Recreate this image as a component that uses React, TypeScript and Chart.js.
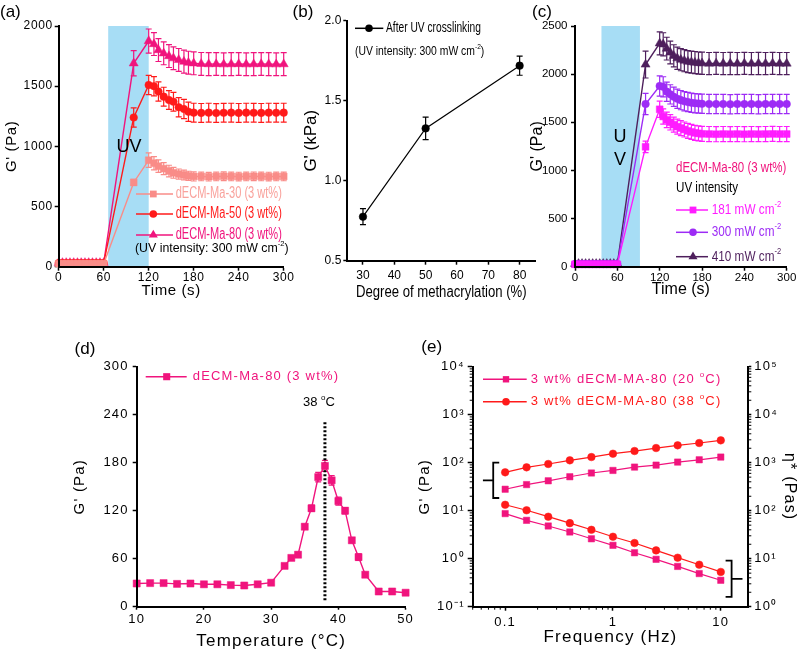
import React, { useEffect, useRef } from 'react';
import { Chart, registerables } from 'chart.js';

Chart.register(...registerables);

const SANS = "'Liberation Sans', Arial, sans-serif";

// ================= DATA =================
// (a) dECM-Ma-30/50/80, UV 300 mW cm-2
const timeA = [0, 5, 10, 15, 20, 25, 30, 35, 40, 45, 50, 55, 60, 100, 120, 127, 133, 140, 147, 153, 160, 167, 173, 180, 190, 200, 210, 220, 230, 240, 250, 260, 270, 280, 290, 300];
const g30A = [25, 25, 25, 25, 25, 25, 25, 25, 25, 25, 25, 25, 25, 700, 885, 860, 835, 815, 795, 780, 770, 762, 755, 750, 750, 748, 750, 752, 750, 749, 750, 751, 750, 749, 750, 750];
const g50A = [30, 30, 30, 30, 30, 30, 30, 30, 30, 30, 30, 30, 30, 1240, 1510, 1500, 1455, 1413, 1385, 1371, 1325, 1310, 1288, 1280, 1278, 1280, 1277, 1279, 1280, 1278, 1280, 1279, 1278, 1280, 1279, 1280];
const g80A = [32, 32, 32, 32, 32, 32, 32, 32, 32, 32, 32, 32, 32, 1690, 1875, 1850, 1800, 1773, 1750, 1732, 1718, 1704, 1695, 1690, 1685, 1683, 1684, 1682, 1683, 1684, 1682, 1683, 1684, 1683, 1682, 1683];
const e30A = [0, 0, 0, 0, 0, 0, 0, 0, 0, 0, 0, 0, 0, 25, 60, 55, 52, 50, 48, 45, 42, 40, 38, 38, 36, 36, 36, 36, 36, 36, 36, 36, 36, 36, 36, 36];
const e50A = [0, 0, 0, 0, 0, 0, 0, 0, 0, 0, 0, 0, 0, 80, 80, 80, 80, 78, 78, 78, 80, 80, 80, 78, 78, 78, 78, 78, 78, 78, 78, 78, 78, 78, 78, 78];
const e80A = [0, 0, 0, 0, 0, 0, 0, 0, 0, 0, 0, 0, 0, 105, 100, 95, 95, 95, 95, 95, 95, 95, 95, 95, 95, 95, 95, 95, 95, 95, 95, 95, 95, 95, 95, 95];
const uvBandA = [66, 120];
const ticksAx = [0, 60, 120, 180, 240, 300];
const ticksAy = [0, 500, 1000, 1500, 2000];

// (b) G' after UV crosslinking vs degree of methacrylation
const degreeB = [30, 50, 80];
const gB = [0.775, 1.327, 1.719];
const eB = [0.05, 0.07, 0.06];
const ticksBx = [30, 40, 50, 60, 70, 80];
const ticksBy = [0.5, 1.0, 1.5, 2.0];

// (c) dECM-Ma-80 at three UV intensities
const timeC = [0, 5, 10, 15, 20, 25, 30, 35, 40, 45, 50, 55, 60, 100, 120, 125, 130, 135, 140, 145, 150, 155, 160, 165, 170, 175, 180, 190, 200, 210, 220, 230, 240, 250, 260, 270, 280, 290, 300];
const g181C = [25, 25, 25, 25, 25, 25, 25, 25, 25, 25, 25, 25, 25, 1245, 1635, 1560, 1525, 1500, 1475, 1455, 1440, 1425, 1410, 1400, 1390, 1385, 1380, 1378, 1376, 1378, 1377, 1378, 1376, 1378, 1377, 1378, 1379, 1378, 1378];
const g300C = [28, 28, 28, 28, 28, 28, 28, 28, 28, 28, 28, 28, 28, 1690, 1877, 1868, 1818, 1790, 1765, 1745, 1730, 1718, 1710, 1703, 1698, 1695, 1692, 1690, 1689, 1690, 1688, 1690, 1689, 1690, 1688, 1690, 1689, 1690, 1690];
const g410C = [30, 30, 30, 30, 30, 30, 30, 30, 30, 30, 30, 30, 30, 2100, 2320, 2310, 2265, 2225, 2190, 2165, 2150, 2140, 2130, 2125, 2120, 2115, 2113, 2110, 2112, 2110, 2111, 2110, 2112, 2110, 2111, 2110, 2112, 2110, 2110];
const e181C = [0, 0, 0, 0, 0, 0, 0, 0, 0, 0, 0, 0, 0, 60, 85, 80, 80, 80, 78, 78, 78, 78, 78, 78, 78, 78, 78, 78, 78, 78, 78, 78, 78, 78, 78, 78, 78, 78, 78];
const e300C = [0, 0, 0, 0, 0, 0, 0, 0, 0, 0, 0, 0, 0, 110, 105, 105, 100, 100, 100, 100, 100, 100, 100, 100, 100, 100, 100, 100, 100, 100, 100, 100, 100, 100, 100, 100, 100, 100, 100];
const e410C = [0, 0, 0, 0, 0, 0, 0, 0, 0, 0, 0, 0, 0, 140, 120, 120, 118, 118, 115, 115, 115, 115, 115, 115, 115, 115, 115, 115, 115, 115, 115, 115, 115, 115, 115, 115, 115, 115, 115];
const uvBandC = [37.5, 92];
const ticksCx = [0, 60, 120, 180, 240, 300];
const ticksCy = [0, 500, 1000, 1500, 2000, 2500];

// (d) temperature sweep
const tempD = [10, 12, 14, 16, 18, 20, 22, 24, 26, 28, 30, 32, 33, 34, 35, 36, 37, 38, 39, 40, 41, 42, 43, 44, 46, 48, 50];
const gD = [29, 29.5, 29.5, 28.5, 29, 28, 28, 27, 26.5, 28, 30, 51, 61, 65, 100, 123, 162, 176, 158, 132, 120, 83, 62, 40, 19, 19, 17.5];
const eD = [2, 2, 2, 2, 2, 2, 2, 2, 2, 2, 2, 2, 3, 3, 3, 4, 6, 7, 6, 5, 4, 3, 4, 2, 2, 2, 2];
const refLineX = [38, 38];
const refLineY = [8, 233];
const ticksDx = [10, 20, 30, 40, 50];
const ticksDy = [0, 60, 120, 180, 240, 300];

// (e) frequency sweep
const freqE = [0.1, 0.158, 0.251, 0.398, 0.631, 1, 1.585, 2.512, 3.981, 6.31, 10];
const g20E = [28, 35, 42, 51, 61, 69, 81, 89, 103, 115, 131];
const g38E = [63, 80, 94, 112, 131, 154, 175, 202, 230, 257, 292];
const eta20E = [87, 63, 48, 36, 26, 19, 13.3, 9.7, 6.9, 4.9, 3.55];
const eta38E = [133, 102, 75, 55, 40, 28.7, 21.2, 14.9, 10.5, 7.5, 5.3];
const ticksEx = [0.1, 1, 10];
const ticksEy = [0.1, 1, 10, 100, 1000, 10000];
const ticksEy2 = [1, 10, 100, 1000, 10000, 100000];
const bracketG = { x: 0.0775, tipX: 0.0622, yTop: 100, yBottom: 18.4, axis: 'y' };
const bracketEta = { x: 12.6, tipX: 15.9, yTop: 9.1, yBottom: 1.6, axis: 'y2' };

// ================= COLOURS =================
const C30 = '#F98C88';
const C30T = '#F9A29C';
const C50 = '#FF1A1A';
const C80 = '#F0147D';
const C181 = '#FF1CFF';
const C300 = '#9D2BF5';
const C410 = '#4E1F5C';
const UVC = '#A7DDF5';

// ================= HELPERS =================
type Part = { t: string; sup?: boolean };
type Txt = { x: number; y: number; parts: Part[]; size: number; color?: string; align?: 'left' | 'center'; spacing?: number; sx?: number };
type Leg = { x1: number; x2: number; y: number; mx: number; shape: string; r: number; color: string };

function markerPath(ctx: CanvasRenderingContext2D, shape: string, x: number, y: number, r: number) {
  ctx.beginPath();
  if (shape === 'rect') {
    const s = r * Math.SQRT1_2;
    ctx.rect(x - s, y - s, 2 * s, 2 * s);
  } else if (shape === 'triangle') {
    let a = 0;
    ctx.moveTo(x + Math.sin(a) * r, y - Math.cos(a) * r);
    a += (2 * Math.PI) / 3;
    ctx.lineTo(x + Math.sin(a) * r, y - Math.cos(a) * r);
    a += (2 * Math.PI) / 3;
    ctx.lineTo(x + Math.sin(a) * r, y - Math.cos(a) * r);
    ctx.closePath();
  } else {
    ctx.arc(x, y, r, 0, Math.PI * 2);
  }
}

function drawParts(ctx: any, t: Txt) {
  const sx = t.sx || 1;
  ctx.save();
  ctx.letterSpacing = (t.spacing || 0) + 'px';
  const fontOf = (p: Part) => `${p.sup ? Math.round(t.size * 0.62) : t.size}px ${SANS}`;
  const widths = t.parts.map((p) => {
    ctx.font = fontOf(p);
    return ctx.measureText(p.t).width;
  });
  const total = widths.reduce((a, b) => a + b, 0) * sx;
  const x0 = t.align === 'center' ? t.x - total / 2 : t.x;
  ctx.translate(x0, t.y);
  ctx.scale(sx, 1);
  ctx.textBaseline = 'middle';
  ctx.textAlign = 'left';
  ctx.fillStyle = t.color || '#000';
  let x = 0;
  t.parts.forEach((p, i) => {
    ctx.font = fontOf(p);
    ctx.fillText(p.t, x, p.sup ? -t.size * 0.38 : 0);
    x += widths[i];
  });
  ctx.restore();
}

function overlay(texts: Txt[], legs: Leg[]) {
  return {
    id: 'overlay',
    afterDraw(chart: any) {
      const ctx = chart.ctx;
      ctx.save();
      legs.forEach((l) => {
        ctx.strokeStyle = l.color;
        ctx.lineWidth = 1.5;
        ctx.beginPath();
        ctx.moveTo(l.x1, l.y);
        ctx.lineTo(l.x2, l.y);
        ctx.stroke();
        ctx.fillStyle = l.color;
        markerPath(ctx, l.shape, l.mx, l.y, l.r);
        ctx.fill();
      });
      texts.forEach((t) => drawParts(ctx, t));
      ctx.restore();
    },
  };
}

const errorBars = {
  id: 'errorBars',
  beforeDatasetsDraw(chart: any) {
    const ctx = chart.ctx;
    chart.data.datasets.forEach((d: any, di: number) => {
      if (!d.errors) return;
      const meta = chart.getDatasetMeta(di);
      const xs = chart.scales[meta.xAxisID];
      const ys = chart.scales[meta.yAxisID];
      ctx.save();
      ctx.strokeStyle = d.borderColor;
      ctx.lineWidth = 1.2;
      d.data.forEach((p: any, i: number) => {
        const e = d.errors[i];
        if (!e) return;
        const x = xs.getPixelForValue(p.x);
        const y1 = ys.getPixelForValue(p.y - e);
        const y2 = ys.getPixelForValue(p.y + e);
        ctx.beginPath();
        ctx.moveTo(x, y1);
        ctx.lineTo(x, y2);
        ctx.moveTo(x - 3, y1);
        ctx.lineTo(x + 3, y1);
        ctx.moveTo(x - 3, y2);
        ctx.lineTo(x + 3, y2);
        ctx.stroke();
      });
      ctx.restore();
    });
  },
};

function bandPlugin(xr: number[], color: string) {
  return {
    id: 'band',
    beforeDatasetsDraw(chart: any) {
      const { x, y } = chart.scales;
      const ctx = chart.ctx;
      const x0 = x.getPixelForValue(xr[0]);
      const x1 = x.getPixelForValue(xr[1]);
      const top = y.getPixelForValue(y.max);
      const bot = y.getPixelForValue(y.min);
      ctx.save();
      ctx.fillStyle = color;
      ctx.fillRect(x0, top, x1 - x0, bot - top);
      ctx.restore();
    },
  };
}

function spacingPlugin(px: number) {
  const set = (chart: any) => {
    chart.ctx.letterSpacing = px + 'px';
  };
  return { id: 'spacing', beforeUpdate: set, beforeLayout: set, beforeDraw: set, beforeDatasetsDraw: set };
}

const minorMult = [2, 3, 4, 5, 6, 7, 8, 9];
function minorTicksPlugin(ids: string[]) {
  return {
    id: 'minorTicks',
    afterDraw(chart: any) {
      const ctx = chart.ctx;
      ctx.save();
      ctx.strokeStyle = '#000';
      ctx.lineWidth = 1;
      ids.forEach((id) => {
        const s = chart.scales[id];
        const lo = Math.floor(Math.log10(s.min));
        const hi = Math.ceil(Math.log10(s.max));
        for (let e = lo; e <= hi; e++) {
          for (const m of minorMult) {
            const v = m * Math.pow(10, e);
            if (v < s.min || v > s.max) continue;
            const p = s.getPixelForValue(v);
            ctx.beginPath();
            if (s.isHorizontal()) {
              ctx.moveTo(p, s.top);
              ctx.lineTo(p, s.top + 3);
            } else if (s.position === 'left') {
              ctx.moveTo(s.right, p);
              ctx.lineTo(s.right - 3, p);
            } else {
              ctx.moveTo(s.left, p);
              ctx.lineTo(s.left + 3, p);
            }
            ctx.stroke();
          }
        }
      });
      ctx.restore();
    },
  };
}

function bracketsPlugin(list: any[]) {
  return {
    id: 'brackets',
    afterDatasetsDraw(chart: any) {
      const ctx = chart.ctx;
      const xs = chart.scales.x;
      ctx.save();
      ctx.strokeStyle = '#000';
      ctx.lineWidth = 1.8;
      list.forEach((b) => {
        const ys = chart.scales[b.axis];
        const px = xs.getPixelForValue(b.x);
        const tip = xs.getPixelForValue(b.tipX);
        const pt = ys.getPixelForValue(b.yTop);
        const pb = ys.getPixelForValue(b.yBottom);
        const pm = (pt + pb) / 2;
        const dir = tip < px ? 1 : -1;
        ctx.beginPath();
        ctx.moveTo(px + dir * 6, pt);
        ctx.lineTo(px, pt);
        ctx.lineTo(px, pb);
        ctx.lineTo(px + dir * 6, pb);
        ctx.moveTo(px, pm);
        ctx.lineTo(tip, pm);
        ctx.stroke();
      });
      ctx.restore();
    },
  };
}

function ds(label: string, xs: number[], ys: number[], color: string, shape: string, r: number, errors?: number[], yAxisID = 'y', bw = 1.4) {
  return {
    label,
    data: xs.map((x, i) => ({ x, y: ys[i] })),
    errors,
    borderColor: color,
    backgroundColor: color,
    borderWidth: bw,
    pointStyle: shape,
    pointRadius: r,
    pointBorderWidth: 0.5,
    pointBackgroundColor: color,
    pointBorderColor: color,
    tension: 0,
    clip: false,
    xAxisID: 'x',
    yAxisID,
  };
}

function axis(o: any) {
  return {
    type: o.type || 'linear',
    position: o.position,
    min: o.min,
    max: o.max,
    afterBuildTicks: (s: any) => {
      s.ticks = o.ticks.map((v: number) => ({ value: v }));
    },
    afterFit: (s: any) => {
      if (o.horizontal) s.height = o.size;
      else s.width = o.size;
      s.paddingLeft = 0;
      s.paddingRight = 0;
      s.paddingTop = 0;
      s.paddingBottom = 0;
    },
    grid: { display: true, drawOnChartArea: false, drawTicks: true, tickLength: o.tickLen, tickWidth: 1.5, tickColor: '#000' },
    border: { display: true, color: '#000', width: 2, z: 1 },
    ticks: {
      autoSkip: false,
      maxRotation: 0,
      minRotation: 0,
      padding: o.tickPad,
      color: '#000',
      font: { size: o.font, family: SANS },
      callback: (v: number) => (o.format ? o.format(v) : String(v)),
    },
    title: {
      display: !!o.title,
      text: o.title,
      color: '#000',
      font: { size: o.titleFont, family: SANS },
      padding: o.titlePad,
    },
  };
}

function config(datasets: any[], scales: any, padding: any, plugins: any[]) {
  return {
    type: 'line',
    data: { datasets },
    options: {
      responsive: false,
      animation: false,
      devicePixelRatio: 1,
      events: [],
      layout: { padding },
      plugins: { legend: { display: false }, tooltip: { enabled: false }, title: { display: false } },
      scales,
    },
    plugins,
  } as any;
}

const SUP: Record<string, string> = { '-': '⁻', '0': '⁰', '1': '¹', '2': '²', '3': '³', '4': '⁴', '5': '⁵' };
const pow10Label = (v: number) => '10' + String(Math.round(Math.log10(v))).split('').map((c) => SUP[c]).join('');

// ================= PANELS =================
function configA() {
  return config(
    [
      ds('dECM-Ma-30 (3 wt%)', timeA, g30A, C30, 'rect', 4.8, e30A),
      ds('dECM-Ma-50 (3 wt%)', timeA, g50A, C50, 'circle', 3.8, e50A),
      ds('dECM-Ma-80 (3 wt%)', timeA, g80A, C80, 'triangle', 5.2, e80A),
    ],
    {
      x: axis({ position: 'bottom', min: 0, max: 300, ticks: ticksAx, size: 43.3, horizontal: true, font: 12, tickLen: 4, tickPad: 0, title: 'Time (s)', titleFont: 15, titlePad: { top: 0, bottom: 10.4 } }),
      y: axis({ position: 'left', min: 0, max: 2000, ticks: ticksAy, size: 58.7, horizontal: false, font: 12, tickLen: 4, tickPad: 2, title: "G' (Pa)", titleFont: 15, titlePad: { top: 3, bottom: 0 } }),
    },
    { top: 26, right: 16.3, left: 0, bottom: 0 },
    [
      spacingPlugin(0.6),
      bandPlugin(uvBandA, UVC),
      errorBars,
      overlay(
        [
          { x: 0, y: 12.5, parts: [{ t: '(a)' }], size: 17 },
          { x: 129, y: 147, parts: [{ t: 'UV' }], size: 18, align: 'center' },
          { x: 175.7, y: 194, parts: [{ t: 'dECM-Ma-30 (3 wt%)' }], size: 16, sx: 0.69, color: C30T },
          { x: 175.7, y: 214, parts: [{ t: 'dECM-Ma-50 (3 wt%)' }], size: 16, sx: 0.69, color: C50 },
          { x: 175.7, y: 235, parts: [{ t: 'dECM-Ma-80 (3 wt%)' }], size: 16, sx: 0.69, color: C80 },
          { x: 135, y: 248.3, parts: [{ t: '(UV intensity: 300 mW cm' }, { t: '-2', sup: true }, { t: ')' }], size: 13, sx: 0.95 },
        ],
        [
          { x1: 136, x2: 173, y: 194, mx: 153.3, shape: 'rect', r: 4.8, color: C30 },
          { x1: 136, x2: 173, y: 214, mx: 153.3, shape: 'circle', r: 3.8, color: C50 },
          { x1: 136, x2: 173, y: 235, mx: 153.3, shape: 'triangle', r: 5.2, color: C80 },
        ]
      ),
    ]
  );
}

function configB() {
  return config(
    [ds('After UV crosslinking', degreeB, gB, '#000', 'circle', 3.8, eB, 'y', 1.2)],
    {
      x: axis({ position: 'bottom', min: 25, max: 85, ticks: ticksBx, size: 49.3, horizontal: true, font: 12, tickLen: 4, tickPad: 4 }),
      y: axis({ position: 'left', min: 0.5, max: 2.0, ticks: ticksBy, size: 62.3, horizontal: false, font: 12, tickLen: 4, tickPad: 2, format: (v: number) => v.toFixed(1), title: "G' (kPa)", titleFont: 17, titlePad: { top: 15.8, bottom: 0 } }),
    },
    { top: 20.7, right: 4.7, left: 0, bottom: 0 },
    [
      errorBars,
      overlay(
        [
          { x: 18, y: 12.5, parts: [{ t: '(b)' }], size: 17, align: 'center' },
          { x: 101, y: 28.3, parts: [{ t: 'After UV crosslinking' }], size: 14, sx: 0.73 },
          { x: 70, y: 51.7, parts: [{ t: '(UV intensity: 300 mW cm' }, { t: '-2', sup: true }, { t: ')' }], size: 12.5, sx: 0.83 },
          { x: 156.3, y: 293, parts: [{ t: 'Degree of methacrylation (%)' }], size: 16, sx: 0.82, align: 'center' },
        ],
        [{ x1: 70, x2: 98.3, y: 28.3, mx: 84, shape: 'circle', r: 3.8, color: '#000' }]
      ),
    ]
  );
}

function configC() {
  return config(
    [
      ds('181 mW cm-2', timeC, g181C, C181, 'rect', 4.8, e181C),
      ds('300 mW cm-2', timeC, g300C, C300, 'circle', 3.8, e300C),
      ds('410 mW cm-2', timeC, g410C, C410, 'triangle', 5.2, e410C),
    ],
    {
      x: axis({ position: 'bottom', min: 0, max: 300, ticks: ticksCx, size: 43.3, horizontal: true, font: 11.5, tickLen: 4, tickPad: 0.5, title: 'Time (s)', titleFont: 16, titlePad: { top: 0, bottom: 10.4 } }),
      y: axis({ position: 'left', min: 0, max: 2500, ticks: ticksCy, size: 50, horizontal: false, font: 11.5, tickLen: 4, tickPad: 3.5, title: "G' (Pa)", titleFont: 16, titlePad: { top: 3.4, bottom: 0 } }),
    },
    { top: 26, right: 13.3, left: 0, bottom: 0 },
    [
      bandPlugin(uvBandC, UVC),
      errorBars,
      overlay(
        [
          { x: 17, y: 12.5, parts: [{ t: '(c)' }], size: 17, align: 'center' },
          { x: 95, y: 137, parts: [{ t: 'U' }], size: 18, align: 'center' },
          { x: 95, y: 160, parts: [{ t: 'V' }], size: 18, align: 'center' },
          { x: 151, y: 168, parts: [{ t: 'dECM-Ma-80 (3 wt%)' }], size: 14, sx: 0.82, color: C80 },
          { x: 151, y: 188, parts: [{ t: 'UV intensity' }], size: 14, sx: 0.83 },
          { x: 186.7, y: 210, parts: [{ t: '181 mW cm' }, { t: '-2', sup: true }], size: 14, sx: 0.84, color: C181 },
          { x: 186.7, y: 232.3, parts: [{ t: '300 mW cm' }, { t: '-2', sup: true }], size: 14, sx: 0.84, color: C300 },
          { x: 186.7, y: 256.7, parts: [{ t: '410 mW cm' }, { t: '-2', sup: true }], size: 14, sx: 0.84, color: C410 },
        ],
        [
          { x1: 151, x2: 183, y: 210, mx: 168, shape: 'rect', r: 4.8, color: C181 },
          { x1: 151, x2: 183, y: 232.3, mx: 168, shape: 'circle', r: 3.8, color: C300 },
          { x1: 151, x2: 183, y: 256.7, mx: 168, shape: 'triangle', r: 5.2, color: C410 },
        ]
      ),
    ]
  );
}

function configD() {
  const ref = {
    label: '38 °C',
    data: refLineX.map((x, i) => ({ x, y: refLineY[i] })),
    borderColor: '#000',
    borderWidth: 3,
    borderDash: [2, 2],
    pointRadius: 0,
    clip: false,
    xAxisID: 'x',
    yAxisID: 'y',
  };
  return config(
    [ds('dECM-Ma-80 (3 wt%)', tempD, gD, C80, 'rect', 5, eD), ref],
    {
      x: axis({ position: 'bottom', min: 10, max: 50, ticks: ticksDx, size: 47.3, horizontal: true, font: 13, tickLen: 3, tickPad: 1.5, title: 'Temperature (°C)', titleFont: 17, titlePad: { top: 0, bottom: 2.8 } }),
      y: axis({ position: 'left', min: 0, max: 300, ticks: ticksDy, size: 76.7, horizontal: false, font: 13, tickLen: 4, tickPad: 4, title: "G' (Pa)", titleFont: 15, titlePad: { top: 11, bottom: 0 } }),
    },
    { top: 36.7, right: 9.4, left: 0, bottom: 0 },
    [
      spacingPlugin(1.2),
      errorBars,
      overlay(
        [
          { x: 25, y: 19, parts: [{ t: '(d)' }], size: 17, align: 'center' },
          { x: 132.7, y: 46.7, parts: [{ t: 'dECM-Ma-80 (3 wt%)' }], size: 13, color: C80, spacing: 1.2 },
          { x: 243, y: 72.5, parts: [{ t: '38 ' }, { t: 'o', sup: true }, { t: 'C' }], size: 13 },
        ],
        [{ x1: 85.7, x2: 126.7, y: 46.7, mx: 106.7, shape: 'rect', r: 5, color: C80 }]
      ),
    ]
  );
}

function configE() {
  const logAxis = (o: any) => ({ ...axis({ ...o, type: 'logarithmic' }) });
  return config(
    [
      ds("G' 20 °C", freqE, g20E, C80, 'rect', 4.5, undefined, 'y', 1.2),
      ds("G' 38 °C", freqE, g38E, C50, 'circle', 3.8, undefined, 'y', 1.2),
      ds('η* 20 °C', freqE, eta20E, C80, 'rect', 4.5, undefined, 'y2', 1.2),
      ds('η* 38 °C', freqE, eta38E, C50, 'circle', 3.8, undefined, 'y2', 1.2),
    ],
    {
      x: logAxis({ position: 'bottom', min: 0.05, max: 18, ticks: ticksEx, size: 47.3, horizontal: true, font: 13, tickLen: 4, tickPad: 4, format: (v: number) => String(v), title: 'Frequency (Hz)', titleFont: 17, titlePad: { top: 0, bottom: 6.3 } }),
      y: logAxis({ position: 'left', min: 0.1, max: 10000, ticks: ticksEy, size: 67.7, horizontal: false, font: 13, tickLen: 5, tickPad: 3, format: pow10Label, title: "G' (Pa)", titleFont: 15, titlePad: { top: 11, bottom: 0 } }),
      y2: logAxis({ position: 'right', min: 1, max: 100000, ticks: ticksEy2, size: 51.7, horizontal: false, font: 13, tickLen: 3, tickPad: 3, format: pow10Label, title: 'η* (Pas)', titleFont: 16, titlePad: { top: 1, bottom: 0 } }),
    },
    { top: 36.7, right: 0, left: 0, bottom: 0 },
    [
      spacingPlugin(1.2),
      minorTicksPlugin(['x', 'y', 'y2']),
      bracketsPlugin([bracketG, bracketEta]),
      overlay(
        [
          { x: 26.7, y: 17.5, parts: [{ t: '(e)' }], size: 17, align: 'center' },
          { x: 125.7, y: 49.3, parts: [{ t: '3 wt% dECM-MA-80 (20 ' }, { t: 'o', sup: true }, { t: 'C)' }], size: 13, color: C80, spacing: 1.2 },
          { x: 125.7, y: 71.7, parts: [{ t: '3 wt% dECM-MA-80 (38 ' }, { t: 'o', sup: true }, { t: 'C)' }], size: 13, color: C50, spacing: 1.2 },
        ],
        [
          { x1: 78, x2: 121.7, y: 49.3, mx: 101, shape: 'rect', r: 4.5, color: C80 },
          { x1: 78, x2: 121.7, y: 71.7, mx: 101, shape: 'circle', r: 3.8, color: C50 },
        ]
      ),
    ]
  );
}

function Panel({ left, top, width, height, make }: { left: number; top: number; width: number; height: number; make: () => any }) {
  const ref = useRef<HTMLCanvasElement>(null);
  useEffect(() => {
    const chart = new Chart(ref.current as HTMLCanvasElement, make());
    return () => chart.destroy();
  }, []);
  return <canvas ref={ref} width={width} height={height} style={{ position: 'absolute', left, top, width, height }} />;
}

export default function App() {
  useEffect(() => {
    document.body.style.margin = '0';
  }, []);
  return (
    <div style={{ position: 'absolute', left: 0, top: 0, width: 800, height: 654, background: '#fff', overflow: 'hidden' }}>
      <Panel left={0} top={0} width={300} height={310} make={configA} />
      <Panel left={285} top={0} width={255} height={310} make={configB} />
      <Panel left={525} top={0} width={275} height={310} make={configC} />
      <Panel left={60} top={330} width={355} height={324} make={configD} />
      <Panel left={405} top={330} width={395} height={324} make={configE} />
    </div>
  );
}
